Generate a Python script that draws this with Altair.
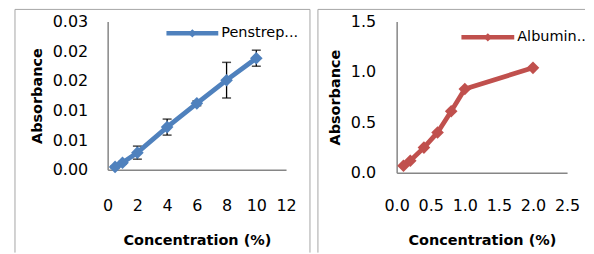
import altair as alt
import pandas as pd

# ---- data ----
pen_conc = [0.5, 1, 2, 4, 6, 8, 10]
pen_abs = [0.0005, 0.0012, 0.0029, 0.0072, 0.0112, 0.0151, 0.0188]
pen_err = [0.0002, 0.0002, 0.0011, 0.00135, 0.0004, 0.0030, 0.00135]

alb_conc = [0.1, 0.2, 0.4, 0.6, 0.8, 1.0, 2.0]
alb_abs = [0.07, 0.12, 0.25, 0.40, 0.61, 0.83, 1.04]

pen_x_ticks = [0, 2, 4, 6, 8, 10, 12]
pen_y_ticks = [0, 0.005, 0.01, 0.015, 0.02, 0.025]
pen_y_labels = ["0.00", "0.01", "0.01", "0.02", "0.02", "0.03"]
alb_x_ticks = [0, 0.5, 1.0, 1.5, 2.0, 2.5]
alb_y_ticks = [0, 0.5, 1.0, 1.5]

BLUE = "#4F81BD"
RED = "#C0504D"
AXC = "#868686"
BORDER = "#A6A6A6"
FONT = "DejaVu Sans"

pen_df = pd.DataFrame({
    "conc": pen_conc,
    "abs": pen_abs,
    "lo": [a - e for a, e in zip(pen_abs, pen_err)],
    "hi": [a + e for a, e in zip(pen_abs, pen_err)],
})
alb_df = pd.DataFrame({"conc": alb_conc, "abs": alb_abs})

blank = alt.Data(values=[{}])


def border(x_left, x_right, top, bottom, right_side=True):
    layers = [
        alt.Chart(blank).mark_rule(color=BORDER, strokeWidth=1).encode(
            x=alt.value(x_left), y=alt.value(top), y2=alt.value(bottom)),
        alt.Chart(blank).mark_rule(color=BORDER, strokeWidth=1).encode(
            x=alt.value(x_left), x2=alt.value(x_right), y=alt.value(top)),
    ]
    if right_side:
        layers.append(
            alt.Chart(blank).mark_rule(color=BORDER, strokeWidth=1).encode(
                x=alt.value(x_right), y=alt.value(top), y2=alt.value(bottom)))
    return layers


def legend(color, x0, x1, y, label):
    return [
        alt.Chart(blank).mark_rule(color=color, strokeWidth=4.5).encode(
            x=alt.value(x0), x2=alt.value(x1), y=alt.value(y)),
        alt.Chart(blank).mark_point(shape="diamond", filled=True, size=70,
                                    color=color, opacity=1).encode(
            x=alt.value((x0 + x1) / 2), y=alt.value(y)),
        alt.Chart(blank).mark_text(align="left", baseline="middle", font=FONT,
                                   fontSize=14.5, color="black").encode(
            x=alt.value(x1 + 3), y=alt.value(y), text=alt.value(label)),
    ]


# ---------------- left panel ----------------
pen_label_expr = "[" + ",".join("'%s'" % s for s in pen_y_labels) + "][round(datum.value/0.005)]"

px = alt.X("conc:Q", scale=alt.Scale(domain=[0, 12], nice=False),
           axis=alt.Axis(values=pen_x_ticks, labelPadding=28, titlePadding=20),
           title="Concentration (%)")
py_axis = alt.Axis(values=pen_y_ticks, labelExpr=pen_label_expr, labelPadding=20, titlePadding=8)
py_scale = alt.Scale(domain=[0, 0.025], nice=False)

pen_base = alt.Chart(pen_df)
pen_err_rule = pen_base.mark_rule(color="black", strokeWidth=1.3).encode(
    x=px, y=alt.Y("lo:Q", scale=py_scale, axis=py_axis, title="Absorbance"), y2="hi:Q")
pen_cap_lo = pen_base.mark_tick(orient="horizontal", size=9, thickness=1.5, color="black").encode(
    x=px, y=alt.Y("lo:Q", scale=py_scale, axis=py_axis, title="Absorbance"))
pen_cap_hi = pen_base.mark_tick(orient="horizontal", size=9, thickness=1.5, color="black").encode(
    x=px, y=alt.Y("hi:Q", scale=py_scale, axis=py_axis, title="Absorbance"))
pen_line = pen_base.mark_line(color=BLUE, strokeWidth=4.8).encode(
    x=px, y=alt.Y("abs:Q", scale=py_scale, axis=py_axis, title="Absorbance"))
pen_pts = pen_base.mark_point(shape="diamond", filled=True, size=160, color=BLUE, opacity=1).encode(
    x=px, y=alt.Y("abs:Q", scale=py_scale, axis=py_axis, title="Absorbance"))

left = alt.layer(
    *border(-93, 203, -12, 232),
    pen_err_rule, pen_cap_lo, pen_cap_hi, pen_line, pen_pts,
    *legend(BLUE, 59, 111, 12, "Penstrep..."),
).properties(width=179, height=149)

# ---------------- right panel ----------------
ax = alt.X("conc:Q", scale=alt.Scale(domain=[0, 2.5], nice=False),
           axis=alt.Axis(values=alb_x_ticks, format=".1f", labelPadding=25, titlePadding=20),
           title="Concentration (%)")
ay = alt.Y("abs:Q", scale=alt.Scale(domain=[0, 1.5], nice=False),
           axis=alt.Axis(values=alb_y_ticks, format=".1f", labelPadding=21, titlePadding=8),
           title="Absorbance")

alb_base = alt.Chart(alb_df)
alb_line = alb_base.mark_line(color=RED, strokeWidth=4.8).encode(x=ax, y=ay)
alb_pts = alb_base.mark_point(shape="diamond", filled=True, size=160, color=RED, opacity=1).encode(x=ax, y=ay)

right = alt.layer(
    *border(-79, 189, -12, 232, right_side=False),
    alb_line, alb_pts,
    *legend(RED, 65, 118, 16, "Albumin.."),
).properties(width=171, height=152)

chart = alt.hconcat(left, right, spacing=111, bounds="flush").properties(
    padding={"left": 6, "top": 0, "right": 0, "bottom": 0}
).configure_view(stroke=None).configure_axis(
    domainColor=AXC, domainWidth=1.5, ticks=False, grid=False, labelFlush=False,
    labelFont=FONT, labelFontSize=16, labelColor="black",
    titleFont=FONT, titleFontSize=14.5, titleFontWeight="bold", titleColor="black",
)

chart.save("out.html", embed_options={"renderer": "svg", "actions": False})
